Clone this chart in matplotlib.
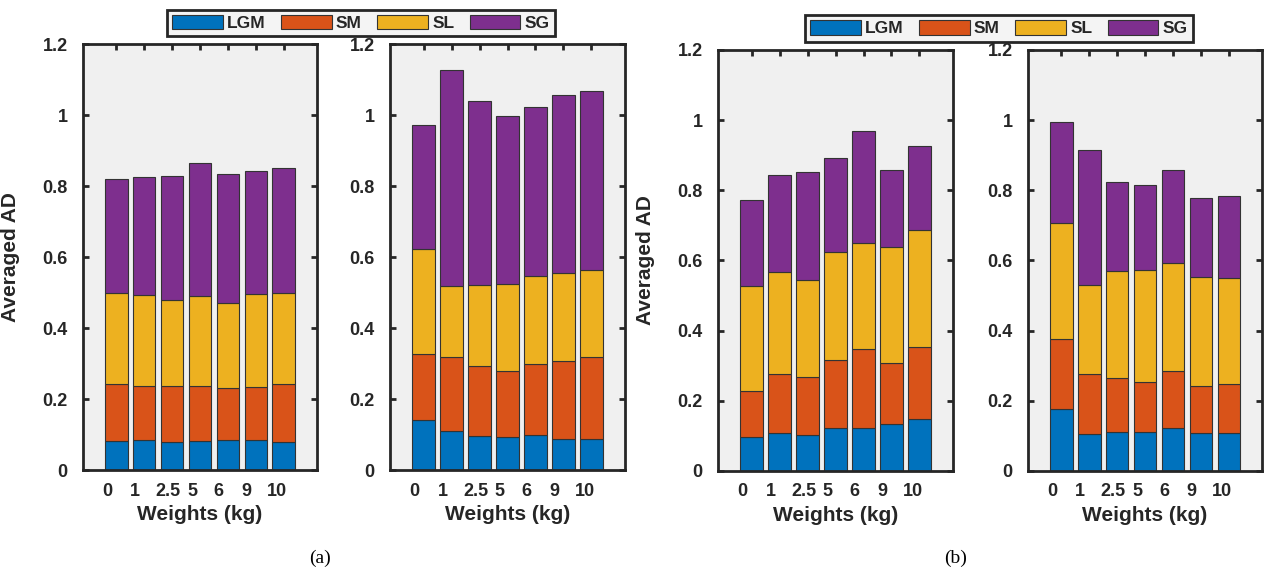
import numpy as np
import matplotlib
matplotlib.use("Agg")
import matplotlib.pyplot as plt
import matplotlib.transforms as mtransforms

plt.rcParams['font.family'] = ['Liberation Sans', 'DejaVu Sans']
plt.rcParams['font.weight'] = 'bold'

# data
weights = ['0', '1', '2.5', '5', '6', '9', '10']
series = ['LGM', 'SM', 'SL', 'SG']
colors = ['#0072BD', '#D95319', '#EDB120', '#7E2F8E']

# (a) left
lgm_a1 = [0.083, 0.084, 0.080, 0.083, 0.084, 0.084, 0.079]
sm_a1 = [0.158, 0.154, 0.156, 0.154, 0.146, 0.149, 0.162]
sl_a1 = [0.259, 0.255, 0.243, 0.253, 0.241, 0.264, 0.259]
sg_a1 = [0.319, 0.332, 0.350, 0.374, 0.363, 0.346, 0.350]
# (a) right
lgm_a2 = [0.141, 0.111, 0.096, 0.094, 0.098, 0.087, 0.086]
sm_a2 = [0.185, 0.208, 0.197, 0.186, 0.200, 0.221, 0.232]
sl_a2 = [0.298, 0.200, 0.228, 0.245, 0.249, 0.248, 0.245]
sg_a2 = [0.348, 0.608, 0.518, 0.472, 0.476, 0.501, 0.505]
# (b) left
lgm_b1 = [0.098, 0.107, 0.102, 0.123, 0.122, 0.133, 0.149]
sm_b1 = [0.129, 0.170, 0.167, 0.193, 0.225, 0.176, 0.205]
sl_b1 = [0.300, 0.291, 0.274, 0.307, 0.303, 0.330, 0.334]
sg_b1 = [0.245, 0.277, 0.310, 0.270, 0.319, 0.219, 0.239]
# (b) right
lgm_b2 = [0.178, 0.105, 0.111, 0.111, 0.123, 0.107, 0.107]
sm_b2 = [0.197, 0.171, 0.155, 0.143, 0.161, 0.135, 0.140]
sl_b2 = [0.331, 0.253, 0.304, 0.318, 0.309, 0.310, 0.302]
sg_b2 = [0.288, 0.385, 0.254, 0.244, 0.265, 0.225, 0.235]

panels = [
    ([lgm_a1, sm_a1, sl_a1, sg_a1], [0.0656, 0.1725, 0.1850, 0.750], True),
    ([lgm_a2, sm_a2, sl_a2, sg_a2], [0.3083, 0.1725, 0.1858, 0.750], False),
    ([lgm_b1, sm_b1, sl_b1, sg_b1], [0.5676, 0.1708, 0.1858, 0.7412], True),
    ([lgm_b2, sm_b2, sl_b2, sg_b2], [0.8127, 0.1708, 0.1850, 0.7412], False),
]

ink = '#262626'
label_shift_px = [-9, -9, -4, -8, -9, -9, -7]

fig = plt.figure(figsize=(12.65, 5.68), dpi=100)
axes = []
for stacks, rect, with_ylabel in panels:
    ax = fig.add_axes(rect)
    ax.set_facecolor('#f0f0f0')
    x = np.arange(1, len(weights) + 1)
    bottom = np.zeros(len(weights))
    handles = []
    for vals, col, name in zip(stacks, colors, series):
        h = ax.bar(x, vals, 0.8, bottom=bottom, color=col, edgecolor='#333333',
                   linewidth=0.8, label=name, zorder=2)
        handles.append(h)
        bottom = bottom + np.array(vals)
    ax.set_xlim(-0.2, 8.2)
    ax.set_ylim(0, 1.2)
    ax.set_yticks(np.arange(0, 1.21, 0.2))
    ax.set_yticklabels(['0', '0.2', '0.4', '0.6', '0.8', '1', '1.2'])
    ax.set_xticks(x)
    ax.set_xticklabels(weights)
    ax.tick_params(direction='in', length=4, width=2, color=ink,
                   labelsize=13, labelcolor=ink, top=True, right=True)
    ax.tick_params(axis='x', pad=9)
    ax.tick_params(axis='y', pad=11)
    for lab, dx in zip(ax.get_xticklabels(), label_shift_px):
        off = mtransforms.ScaledTranslation(dx / 100.0, 0, fig.dpi_scale_trans)
        lab.set_transform(lab.get_transform() + off)
    for sp in ax.spines.values():
        sp.set_color(ink)
        sp.set_linewidth(2)
        sp.set_zorder(3)
    ax.set_xlabel('Weights (kg)', fontsize=15, fontweight='bold', color=ink, labelpad=4)
    if with_ylabel:
        ax.set_ylabel('Averaged AD', fontsize=15, fontweight='bold', color=ink)
        ax.yaxis.set_label_coords(-0.27, 0.5)
    axes.append((ax, handles))

for (ax, handles), cx, cy in [(axes[0], 0.2854, 0.9595), (axes[2], 0.7897, 0.950)]:
    leg = fig.legend(handles, series, loc='center', bbox_to_anchor=(cx, cy), ncol=4,
                     fontsize=12.5, frameon=True, fancybox=False, handlelength=2.9,
                     handleheight=0.9, handletextpad=0.25, columnspacing=0.9,
                     borderpad=0.3, edgecolor=ink, facecolor='#f4f4f4', framealpha=1)
    leg.get_frame().set_linewidth(2)
    for t in leg.get_texts():
        t.set_color(ink)
        t.set_fontweight('bold')

fig.text(0.253, 0.0176, '(a)', ha='center', va='center', fontsize=14,
         family='Liberation Serif', fontweight='normal', color='black')
fig.text(0.755, 0.0176, '(b)', ha='center', va='center', fontsize=14,
         family='Liberation Serif', fontweight='normal', color='black')

fig.savefig('out.png', dpi=100)
